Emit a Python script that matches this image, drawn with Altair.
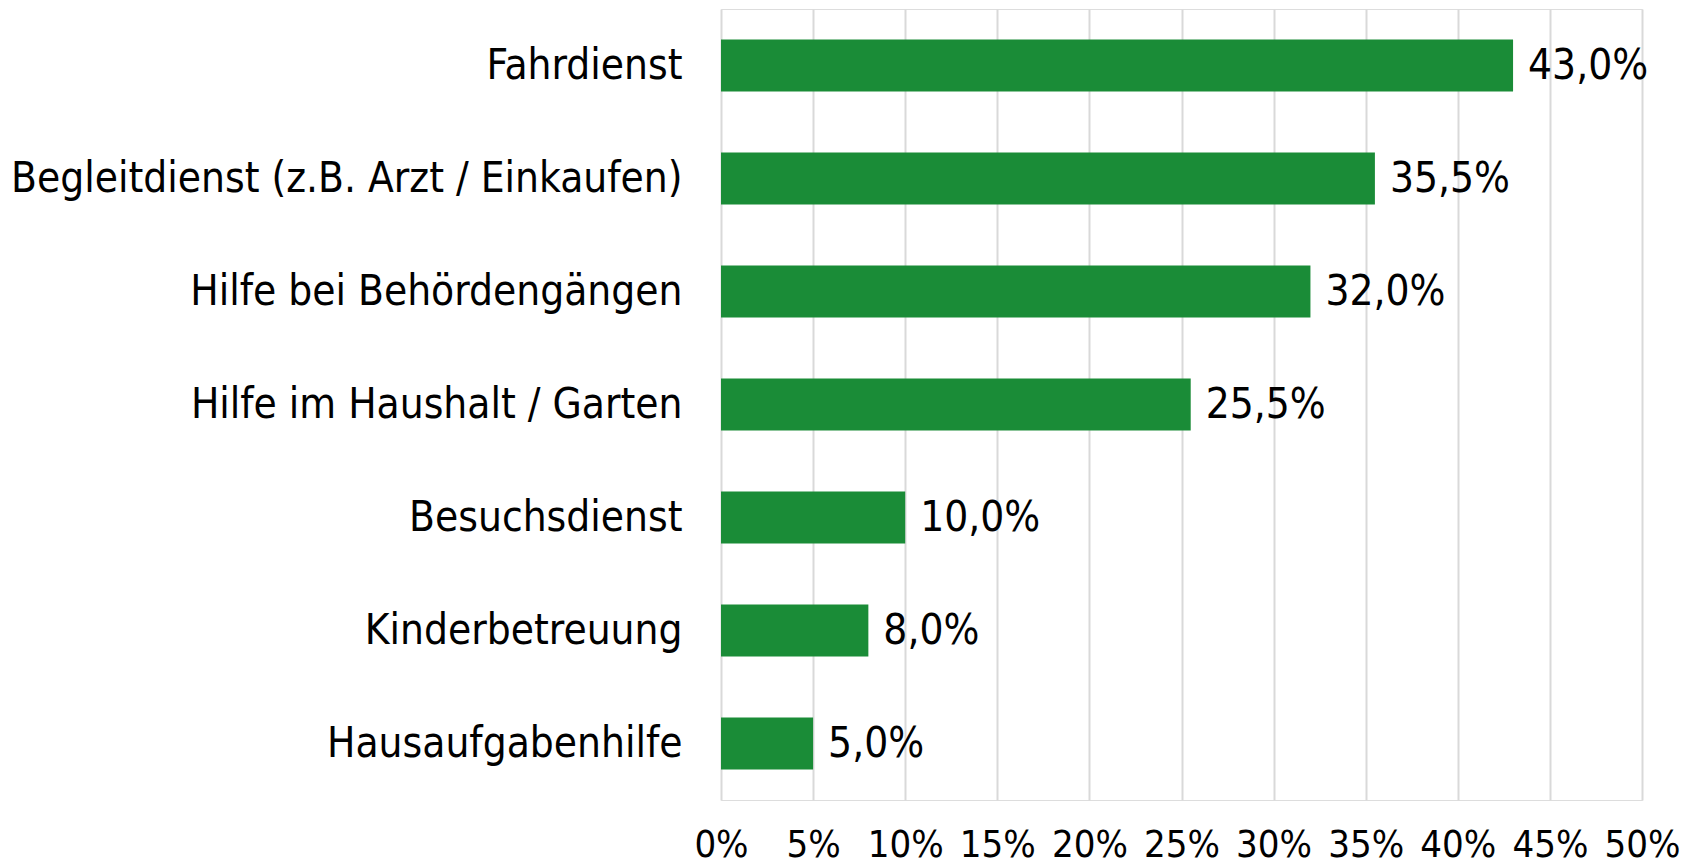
import altair as alt
import pandas as pd

categories = [
    "Fahrdienst",
    "Begleitdienst (z.B. Arzt / Einkaufen)",
    "Hilfe bei Behördengängen",
    "Hilfe im Haushalt / Garten",
    "Besuchsdienst",
    "Kinderbetreuung",
    "Hausaufgabenhilfe",
]
values = [43.0, 35.5, 32.0, 25.5, 10.0, 8.0, 5.0]
tick_values = [0, 5, 10, 15, 20, 25, 30, 35, 40, 45, 50]

df = pd.DataFrame({
    "cat": categories,
    "val": [v / 100 for v in values],
    "label": [f"{v:.1f}".replace(".", ",") + "%" for v in values],
})

FONT = "DejaVu Sans Condensed"
GREEN = "#1a8c37"

y = alt.Y("cat:N", sort=categories, title=None,
          scale=alt.Scale(paddingInner=0.54, paddingOuter=0.27),
          axis=alt.Axis(domain=False, ticks=False, labelFontSize=42, labelFont=FONT,
                        labelColor="#000000", labelPadding=39, labelLimit=800))
x = alt.X("val:Q", title=None,
          scale=alt.Scale(domain=[0, 0.5], nice=False),
          axis=alt.Axis(values=[t / 100 for t in tick_values], format=".0%",
                        domain=False, ticks=False, grid=True, gridColor="#d9d9d9",
                        gridWidth=2, labelFontSize=38, labelFont=FONT,
                        labelColor="#000000", labelPadding=26, labelFlush=False))

bars = alt.Chart(df).mark_bar(color=GREEN, strokeWidth=0).encode(x=x, y=y)
text = alt.Chart(df).mark_text(align="left", baseline="middle", dx=15, fontSize=42,
                               font=FONT, color="#000000").encode(
    x=alt.X("val:Q"), y=alt.Y("cat:N", sort=categories), text="label:N")

chart = (bars + text).properties(
    width=921, height=791,
    autosize=alt.AutoSizeParams(type="none"),
    padding={"left": 721, "top": 9, "right": 50, "bottom": 68},
).configure_view(stroke=None).configure(background="#ffffff")

chart.save("out.html", embed_options={"renderer": "svg", "actions": False})
